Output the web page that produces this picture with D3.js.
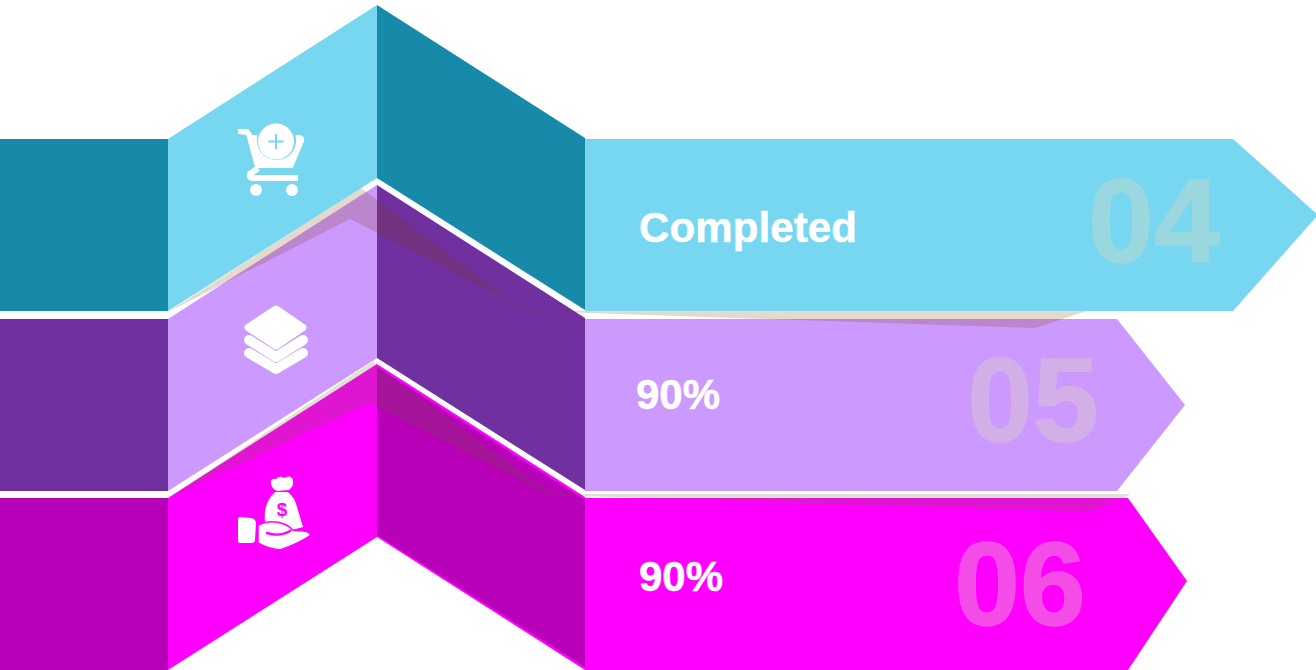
<!DOCTYPE html>
<html>
<head>
<meta charset="utf-8">
<title>Stages 04 to 06</title>
<script src="https://cdn.jsdelivr.net/npm/d3@7/dist/d3.min.js"></script>
<style>
  html, body { margin: 0; padding: 0; background: #fff; overflow: hidden; }
  svg { display: block; }
  text { font-family: "Liberation Sans", Arial, sans-serif; font-weight: 700; }
</style>
</head>
<body>
<script>
// Stage content
const stageNumbers = ["04", "05", "06"];
const stageLabels = ["Completed", "90%", "90%"];
const stageIcons = ["cart", "stack", "bag"];

// Stage palette
const lightColors = ["#77d6f0", "#cc99ff", "#ff00ff"];
const darkColors = ["#168aa8", "#7030a0", "#b800b8"];

const width = 1316, height = 670;
const svg = d3.select("body").append("svg")
  .attr("width", width).attr("height", height)
  .attr("viewBox", [0, 0, width, height]);

// Vertical placement of each ribbon and the fold columns shared by all of them
const rowTop = d3.scaleOrdinal(stageNumbers, [139, 319, 498]);
const rowHeight = 172;
const foldLeft = 168, foldPeak = 377, foldRight = 585, peakRise = 134;

// Arrow head of each ribbon: shoulder x, tip x, tip y offset from the ribbon's top
const arrowShoulder = d3.scaleOrdinal(stageNumbers, [1233, 1117, 1128]);
const arrowTip = d3.scaleOrdinal(stageNumbers, [1318, 1185, 1187]);
const arrowTipY = d3.scaleOrdinal(stageNumbers, [76, 86, 83]);

// Text placement
const labelX = d3.scaleOrdinal(stageNumbers, [639, 636, 639]);
const labelBase = d3.scaleOrdinal(stageNumbers, [242, 409, 591]);
const numberX = d3.scaleOrdinal(stageNumbers, [1154, 1033, 1020]);
const numberBase = d3.scaleOrdinal(stageNumbers, [262, 441, 625]);

const polygon = d3.line().curve(d3.curveLinearClosed);

// Soft fold shadows cast by one ribbon onto the next one down
const shadowLower = [[168,312],[361,188],[523,310],[585,311],[1087,311],[1035,328],[530,311],[350,219]];
const shadowBottom = [[168,498],[373,361],[377,366],[550,493],[585,494],[1131,494],[1090,512],[550,495],[369,403]];

function drawRibbon(num, i) {
  const g = svg.append("g").attr("class", "ribbon-" + num);
  const top = rowTop(num), bottom = top + rowHeight;
  const light = lightColors[i], dark = darkColors[i];

  g.append("rect").attr("x", 0).attr("y", top)
    .attr("width", foldLeft).attr("height", rowHeight).attr("fill", dark);

  g.append("path").attr("fill", light).attr("d", polygon([
    [foldLeft, top], [foldPeak, top - peakRise],
    [foldPeak, bottom - peakRise + 1], [foldLeft, bottom]
  ]));

  if (i === 2) {
    // The last ribbon keeps a thin bright rim round its shaded fold
    g.append("path").attr("fill", light).attr("d", polygon([
      [foldPeak, top - peakRise], [foldRight, top - 1],
      [foldRight, height], [foldPeak, bottom - peakRise + 1]
    ]));
    g.append("path").attr("fill", dark).attr("d", polygon([
      [foldPeak, top - peakRise + 3], [foldRight, top + 2],
      [foldRight, height - 3], [foldPeak, bottom - peakRise - 1]
    ]));
  } else {
    g.append("path").attr("fill", dark).attr("d", polygon([
      [foldPeak, top - peakRise], [foldRight, top - 1],
      [foldRight, bottom - 1], [foldPeak, bottom - peakRise + 1]
    ]));
  }

  g.append("path").attr("fill", light).attr("d", polygon([
    [foldRight, top], [arrowShoulder(num), top],
    [arrowTip(num), top + arrowTipY(num)],
    [arrowShoulder(num), bottom], [foldRight, bottom]
  ]));
}

// Ribbons stack from the bottom up so each shadow falls on the one beneath
drawRibbon(stageNumbers[2], 2);
svg.append("path").attr("d", polygon(shadowBottom)).attr("fill", "#5f6a1e").attr("fill-opacity", 0.2);
drawRibbon(stageNumbers[1], 1);
svg.append("path").attr("d", polygon(shadowLower)).attr("fill", "#7d3c00").attr("fill-opacity", 0.2);
drawRibbon(stageNumbers[0], 0);

// Large faded stage numbers
svg.append("g").attr("opacity", 0.35).selectAll("text").data(stageNumbers).join("text")
  .attr("x", d => numberX(d)).attr("y", d => numberBase(d))
  .attr("text-anchor", "middle").attr("font-size", 118)
  .attr("fill", "#e0dabd").attr("stroke", "#e0dabd").attr("stroke-width", 1.5)
  .text(d => d);

// Stage captions
svg.append("g").selectAll("text").data(stageNumbers).join("text")
  .attr("x", d => labelX(d)).attr("y", d => labelBase(d))
  .attr("font-size", 42).attr("fill", "#fff")
  .attr("stroke", "#fff").attr("stroke-width", 0.5)
  .attr("textLength", (d, i) => i === 0 ? 218 : 84)
  .text((d, i) => stageLabels[i]);

// Icon drawings
const iconDrawers = {
  cart(g, accent) {
    g.append("path").attr("fill", "#fff").attr("stroke", "#fff").attr("stroke-width", 2).attr("stroke-linejoin", "round")
      .attr("d", "M239,130 L248,130 L252,136 L256.5,136 A20.5,20.5 0 1 0 296.5,136 L298,136 Q304,136 303,141 L292,167 L256,167 L247,134 L239,133 Z");
    g.append("path").attr("fill", "none").attr("stroke", "#fff").attr("stroke-width", 6).attr("stroke-linejoin", "round")
      .attr("d", "M258,168 L250,174 Q249,178 253,178 L298,178");
    g.append("circle").attr("cx", 276).attr("cy", 141.5).attr("r", 18).attr("fill", "#fff");
    g.append("path").attr("stroke", accent).attr("stroke-width", 2).attr("fill", "none")
      .attr("d", "M276,134 V149 M268.5,141.5 H283.5");
    g.append("circle").attr("cx", 256).attr("cy", 190).attr("r", 6).attr("fill", "#fff");
    g.append("circle").attr("cx", 292).attr("cy", 190).attr("r", 6).attr("fill", "#fff");
  },
  stack(g) {
    g.append("path").attr("fill", "#fff").attr("stroke", "#fff").attr("stroke-width", 7).attr("stroke-linejoin", "round")
      .attr("d", "M276,309 L303,327.5 L276,346 L248,327.5 Z");
    g.append("path").attr("fill", "none").attr("stroke", "#fff").attr("stroke-width", 10).attr("stroke-linejoin", "round").attr("stroke-linecap", "round")
      .attr("d", "M249,340 L276,357 L303,340");
    g.append("path").attr("fill", "none").attr("stroke", "#fff").attr("stroke-width", 10).attr("stroke-linejoin", "round").attr("stroke-linecap", "round")
      .attr("d", "M249,353 L276,369 L303,353");
  },
  bag(g, accent) {
    g.append("path").attr("fill", "#fff")
      .attr("d", "M271,484 Q270,478 276,479 Q280,475 284,478 Q291,474 293,480 Q294,486 289,490 L277,491 Q272,489 271,484 Z");
    g.append("path").attr("fill", "#fff")
      .attr("d", "M275,492 L288,492 Q295,498 297,507 L303,527 L292,530 L265,522 Q263,503 275,492 Z");
    g.append("path").attr("fill", "#fff").attr("stroke", accent).attr("stroke-width", 1.5)
      .attr("d", "M258,525 Q270,519 284,524 Q291,527 292,530 L304,531 Q311,532 310,536 Q296,545 280,550 Q268,549 258,543 Z");
    g.append("path").attr("fill", "none").attr("stroke", accent).attr("stroke-width", 2.4).attr("stroke-linecap", "round")
      .attr("d", "M267,533 Q280,537 290,531");
    g.append("path").attr("fill", "#fff")
      .attr("d", "M238,519 Q238,517 240,517 L251,518 Q256,519 256,523 L255,540 Q255,543 251,543 L240,543 Q238,543 238,541 Z");
    g.append("text").attr("x", 282).attr("y", 516).attr("text-anchor", "middle")
      .attr("font-size", 19).attr("fill", accent).text("$");
  }
};

stageIcons.forEach((name, i) => {
  iconDrawers[name](svg.append("g").attr("class", "icon-" + name), lightColors[i]);
});
</script>
</body>
</html>
